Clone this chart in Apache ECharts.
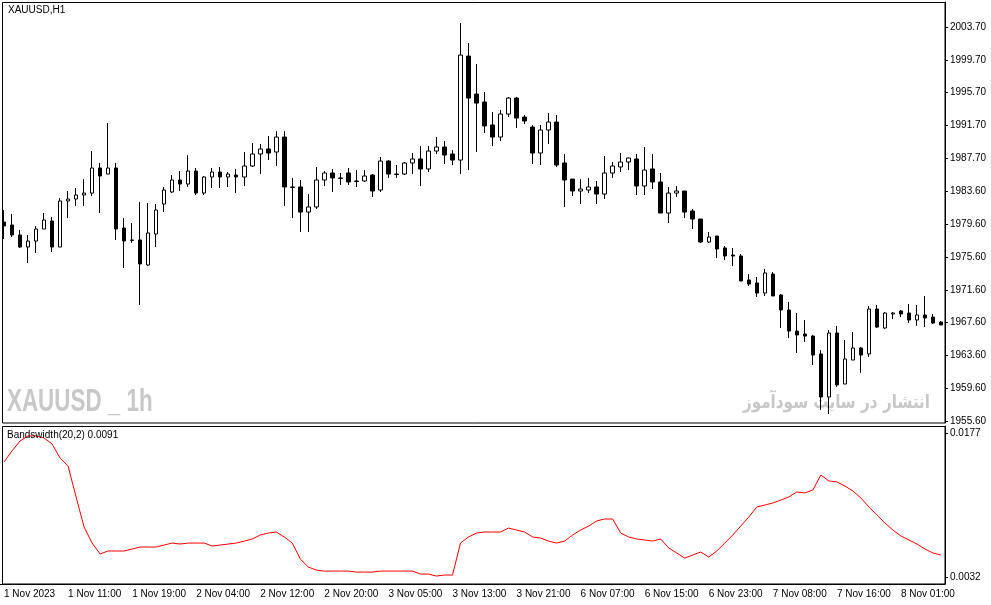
<!DOCTYPE html>
<html>
<head>
<meta charset="utf-8">
<script src="https://cdn.jsdelivr.net/npm/echarts@6/dist/echarts.min.js"></script>
<style>
html, body { margin: 0; padding: 0; background: #fff; }
#main { width: 991px; height: 605px; }
</style>
</head>
<body>
<div id="main"></div>
<script>
// XAUUSD H1, 1 Nov 2023 03:00 .. 8 Nov 2023 06:00
// trading sessions: [day label, first hour, last hour]
var sessions = [
    ['1 Nov', 3, 23],
    ['2 Nov', 1, 23],
    ['3 Nov', 1, 22],
    ['6 Nov', 1, 23],
    ['7 Nov', 1, 23],
    ['8 Nov', 1, 6]
];
var firstLabel = '1 Nov 2023';

// [open, close, low, high]
var candles = [
    [1979.89, 1979.41, 1977.82, 1981.36],
    [1979.53, 1978.31, 1978.06, 1980.87],
    [1978.31, 1976.84, 1976.72, 1978.92],
    [1976.84, 1977.57, 1974.89, 1978.31],
    [1977.57, 1979.04, 1976.11, 1979.41],
    [1979.04, 1980.14, 1979.04, 1980.99],
    [1980.02, 1976.84, 1976.23, 1980.50],
    [1976.84, 1982.46, 1976.84, 1982.82],
    [1982.46, 1982.70, 1980.38, 1983.68],
    [1982.70, 1983.19, 1981.85, 1984.05],
    [1983.19, 1983.43, 1981.85, 1985.14],
    [1983.43, 1986.49, 1983.07, 1988.56],
    [1986.49, 1985.51, 1980.99, 1987.10],
    [1985.75, 1986.49, 1985.75, 1991.98],
    [1986.49, 1979.04, 1977.70, 1987.10],
    [1979.16, 1977.57, 1974.28, 1980.38],
    [1977.70, 1977.65, 1977.33, 1979.77],
    [1977.70, 1974.77, 1969.76, 1982.34],
    [1974.64, 1978.55, 1974.52, 1982.21],
    [1978.43, 1981.36, 1976.84, 1982.09],
    [1982.09, 1983.80, 1981.11, 1984.17],
    [1983.56, 1985.02, 1983.43, 1985.63],
    [1985.02, 1984.53, 1983.68, 1986.12],
    [1984.53, 1986.12, 1984.17, 1988.07],
    [1986.12, 1983.43, 1983.19, 1986.49],
    [1983.43, 1985.39, 1983.19, 1985.51],
    [1985.39, 1986.00, 1984.05, 1986.49],
    [1986.00, 1985.39, 1984.05, 1986.61],
    [1985.39, 1985.75, 1984.17, 1986.00],
    [1985.63, 1985.39, 1983.43, 1986.37],
    [1985.39, 1986.73, 1984.29, 1988.44],
    [1986.73, 1988.20, 1986.61, 1989.54],
    [1988.20, 1988.81, 1985.75, 1989.42],
    [1988.81, 1988.32, 1987.46, 1990.39],
    [1988.44, 1990.27, 1986.73, 1991.00],
    [1990.27, 1984.17, 1981.85, 1991.00],
    [1984.17, 1984.12, 1980.38, 1985.27],
    [1984.17, 1981.11, 1978.67, 1985.02],
    [1981.11, 1981.73, 1978.67, 1983.31],
    [1981.73, 1985.02, 1981.48, 1986.61],
    [1985.02, 1985.88, 1984.29, 1986.12],
    [1985.88, 1985.27, 1983.56, 1986.37],
    [1985.27, 1985.22, 1984.41, 1985.88],
    [1985.88, 1984.78, 1984.41, 1986.49],
    [1984.90, 1984.85, 1984.17, 1986.24],
    [1984.90, 1985.51, 1984.78, 1986.24],
    [1985.63, 1983.68, 1982.95, 1985.75],
    [1983.80, 1987.34, 1983.56, 1987.83],
    [1987.34, 1985.75, 1985.27, 1987.46],
    [1985.75, 1985.70, 1985.27, 1986.85],
    [1985.75, 1987.10, 1985.63, 1987.22],
    [1987.10, 1987.59, 1985.75, 1988.32],
    [1987.59, 1986.37, 1984.29, 1989.17],
    [1986.37, 1988.56, 1986.00, 1989.17],
    [1988.56, 1989.05, 1988.20, 1990.27],
    [1989.05, 1988.07, 1986.98, 1989.78],
    [1988.20, 1987.46, 1986.85, 1988.68],
    [1987.46, 2000.28, 1985.75, 2004.19],
    [2000.16, 1995.03, 1986.24, 2001.75],
    [1995.52, 1994.42, 1988.44, 1999.19],
    [1994.55, 1991.62, 1990.76, 1995.77],
    [1991.74, 1990.27, 1989.17, 1993.32],
    [1990.27, 1993.08, 1989.78, 1993.57],
    [1993.08, 1995.03, 1992.71, 1995.16],
    [1995.03, 1992.59, 1991.37, 1995.16],
    [1992.71, 1992.23, 1991.86, 1992.96],
    [1991.49, 1988.32, 1986.98, 1991.74],
    [1988.32, 1991.13, 1986.85, 1991.74],
    [1991.13, 1992.10, 1989.42, 1993.20],
    [1992.10, 1986.85, 1986.61, 1992.96],
    [1987.10, 1985.02, 1981.73, 1988.20],
    [1985.14, 1983.68, 1983.07, 1985.14],
    [1983.68, 1983.92, 1982.09, 1985.14],
    [1983.80, 1984.17, 1983.43, 1985.27],
    [1984.17, 1983.31, 1982.09, 1984.90],
    [1983.31, 1985.88, 1982.70, 1987.95],
    [1985.88, 1986.73, 1985.27, 1987.22],
    [1986.61, 1987.22, 1986.00, 1988.32],
    [1987.22, 1987.71, 1986.24, 1987.76],
    [1987.59, 1984.29, 1983.19, 1988.20],
    [1984.29, 1986.24, 1983.19, 1989.05],
    [1986.37, 1984.78, 1983.92, 1988.20],
    [1984.78, 1980.99, 1980.99, 1985.88],
    [1980.99, 1983.43, 1979.77, 1984.17],
    [1983.43, 1983.68, 1982.95, 1984.29],
    [1983.68, 1981.11, 1980.38, 1983.68],
    [1981.24, 1980.26, 1979.04, 1981.48],
    [1980.26, 1977.45, 1977.33, 1980.26],
    [1977.45, 1978.06, 1977.33, 1978.67],
    [1978.18, 1976.60, 1975.50, 1978.18],
    [1976.72, 1975.74, 1975.25, 1976.96],
    [1975.86, 1975.74, 1974.52, 1976.72],
    [1975.74, 1972.69, 1972.69, 1975.99],
    [1972.81, 1972.32, 1972.08, 1973.54],
    [1972.45, 1971.22, 1970.74, 1973.18],
    [1971.22, 1973.67, 1970.86, 1974.16],
    [1973.54, 1970.86, 1970.86, 1973.79],
    [1970.98, 1969.15, 1966.95, 1971.10],
    [1969.15, 1966.58, 1965.73, 1970.13],
    [1966.58, 1966.10, 1963.90, 1968.78],
    [1966.22, 1965.97, 1965.24, 1967.93],
    [1965.97, 1963.65, 1962.43, 1966.10],
    [1963.78, 1958.53, 1956.94, 1964.26],
    [1958.53, 1966.34, 1956.45, 1966.71],
    [1966.34, 1959.99, 1959.75, 1967.20],
    [1960.11, 1963.17, 1960.11, 1965.49],
    [1963.04, 1964.51, 1963.04, 1966.46],
    [1964.51, 1963.65, 1961.46, 1964.63],
    [1963.78, 1969.27, 1963.41, 1969.64],
    [1969.27, 1967.07, 1966.95, 1969.76],
    [1966.95, 1968.78, 1966.83, 1968.90],
    [1968.66, 1968.78, 1968.05, 1968.90],
    [1969.03, 1968.66, 1968.29, 1969.15],
    [1968.78, 1967.93, 1967.56, 1969.88],
    [1967.93, 1968.54, 1967.20, 1969.76],
    [1968.54, 1968.17, 1967.07, 1970.86],
    [1968.29, 1967.56, 1967.44, 1968.66],
    [1967.68, 1967.32, 1967.32, 1967.81]
];

// Bandswidth(20,2)
var bandwidth = [
    0.01478, 0.01589, 0.01689, 0.01740, 0.01740, 0.01720, 0.01659, 0.01518, 0.01438, 0.01126,
    0.00823, 0.00662, 0.00552, 0.00582, 0.00582, 0.00582, 0.00602, 0.00622, 0.00622, 0.00622,
    0.00642, 0.00662, 0.00652, 0.00662, 0.00662, 0.00662, 0.00632, 0.00642, 0.00652, 0.00662,
    0.00682, 0.00703, 0.00743, 0.00763, 0.00773, 0.00723, 0.00662, 0.00501, 0.00421, 0.00390,
    0.00380, 0.00380, 0.00380, 0.00380, 0.00370, 0.00370, 0.00370, 0.00380, 0.00380, 0.00380,
    0.00380, 0.00380, 0.00350, 0.00350, 0.00330, 0.00340, 0.00340, 0.00662, 0.00723, 0.00763,
    0.00773, 0.00773, 0.00773, 0.00813, 0.00793, 0.00773, 0.00723, 0.00713, 0.00682, 0.00662,
    0.00682, 0.00743, 0.00793, 0.00833, 0.00884, 0.00904, 0.00904, 0.00763, 0.00723, 0.00703,
    0.00693, 0.00682, 0.00703, 0.00612, 0.00562, 0.00511, 0.00541, 0.00572, 0.00521, 0.00582,
    0.00662, 0.00743, 0.00833, 0.00924, 0.01025, 0.01045, 0.01065, 0.01095, 0.01126, 0.01176,
    0.01166, 0.01196, 0.01347, 0.01287, 0.01277, 0.01236, 0.01186, 0.01115, 0.01025, 0.00944,
    0.00864, 0.00793, 0.00733, 0.00693, 0.00652, 0.00602, 0.00562, 0.00541
];

var priceTicks = [1955.60, 1959.60, 1963.60, 1967.60, 1971.60, 1975.60, 1979.60,
                  1983.60, 1987.70, 1991.70, 1995.70, 1999.70, 2003.70];
var bandTicks = [0.0032, 0.0177];

// one category per hourly bar
var categories = [];
sessions.forEach(function (s) {
    for (var h = s[1]; h <= s[2]; h++) {
        categories.push(s[0] + ' ' + (h < 10 ? '0' : '') + h + ':00');
    }
});

var font = '"Liberation Sans", Arial, sans-serif';
var myChart = echarts.init(document.getElementById('main'));

var option = {
    animation: false,
    backgroundColor: '#fff',
    grid: [
        { left: -1, right: 46, top: 2, height: 421 },
        { left: -1, right: 46, top: 426, height: 158 }
    ],
    xAxis: [
        {
            type: 'category', gridIndex: 0, data: categories,
            axisLine: { show: false }, axisTick: { show: false },
            axisLabel: { show: false }, splitLine: { show: false }
        },
        {
            type: 'category', gridIndex: 1, data: categories,
            axisLine: { lineStyle: { color: '#000', width: 1 } },
            axisTick: { interval: 7, alignWithLabel: true, length: 3, lineStyle: { color: '#000' } },
            axisLabel: {
                interval: 7, align: 'left', margin: 5, color: '#000',
                fontSize: 10, fontFamily: font,
                formatter: function (v, i) { return i === 0 ? firstLabel : v; }
            },
            splitLine: { show: false }
        }
    ],
    yAxis: [
        {
            type: 'value', gridIndex: 0, position: 'right',
            min: 1955.35, max: 2006.76,
            axisLine: { show: true, lineStyle: { color: '#000' } },
            axisTick: { show: true, length: 3, customValues: priceTicks, lineStyle: { color: '#000' } },
            axisLabel: {
                customValues: priceTicks, margin: 5, color: '#000',
                fontSize: 10, fontFamily: font,
                formatter: function (v) { return v.toFixed(2); }
            },
            splitLine: { show: false }
        },
        {
            type: 'value', gridIndex: 1, position: 'right',
            min: 0.0025, max: 0.0184,
            axisLine: { show: true, lineStyle: { color: '#000' } },
            axisTick: { show: true, length: 3, customValues: bandTicks, lineStyle: { color: '#000' } },
            axisLabel: {
                customValues: bandTicks, margin: 5, color: '#000',
                fontSize: 10, fontFamily: font,
                formatter: function (v) { return v.toFixed(4); }
            },
            splitLine: { show: false }
        }
    ],
    graphic: [
        {
            type: 'text', x: 7, y: 386, scaleX: 0.7, z: 0,
            style: { text: 'XAUUSD _ 1h', x: 0, y: 0, fill: '#c8c8c8',
                     font: 'bold 32px "Liberation Sans", Arial, sans-serif' }
        },
        {
            type: 'text', x: 930, y: 394, scaleX: 0.8, z: 0,
            style: { text: 'انتشار در سایت سودآموز', x: 0, y: 0, align: 'right', fill: '#c8c8c8',
                     font: 'bold 19px "DejaVu Sans", sans-serif' }
        },
        {
            type: 'text', x: 8, y: 5, z: 10,
            style: { text: 'XAUUSD,H1', fill: '#000', font: '10px ' + font }
        },
        {
            type: 'text', x: 7, y: 430, z: 10,
            style: { text: 'Bandswidth(20,2) 0.0091', fill: '#000', font: '10px ' + font }
        },
        {
            type: 'rect', z: 10, silent: true,
            shape: { x: 2.5, y: 2.5, width: 942.5, height: 420.5 },
            style: { fill: null, stroke: '#000', lineWidth: 1 }
        },
        {
            type: 'rect', z: 10, silent: true,
            shape: { x: 2.5, y: 426.5, width: 942.5, height: 157.5 },
            style: { fill: null, stroke: '#000', lineWidth: 1 }
        }
    ],
    series: [
        {
            type: 'candlestick', xAxisIndex: 0, yAxisIndex: 0,
            data: candles, barWidth: 4, z: 5,
            itemStyle: {
                color: '#fff', color0: '#000',
                borderColor: '#000', borderColor0: '#000', borderColorDoji: '#000',
                borderWidth: 1
            }
        },
        {
            type: 'line', xAxisIndex: 1, yAxisIndex: 1,
            data: bandwidth, symbol: 'none', z: 5,
            lineStyle: { color: '#ff0000', width: 1 }
        }
    ]
};

myChart.setOption(option);
</script>
</body>
</html>
